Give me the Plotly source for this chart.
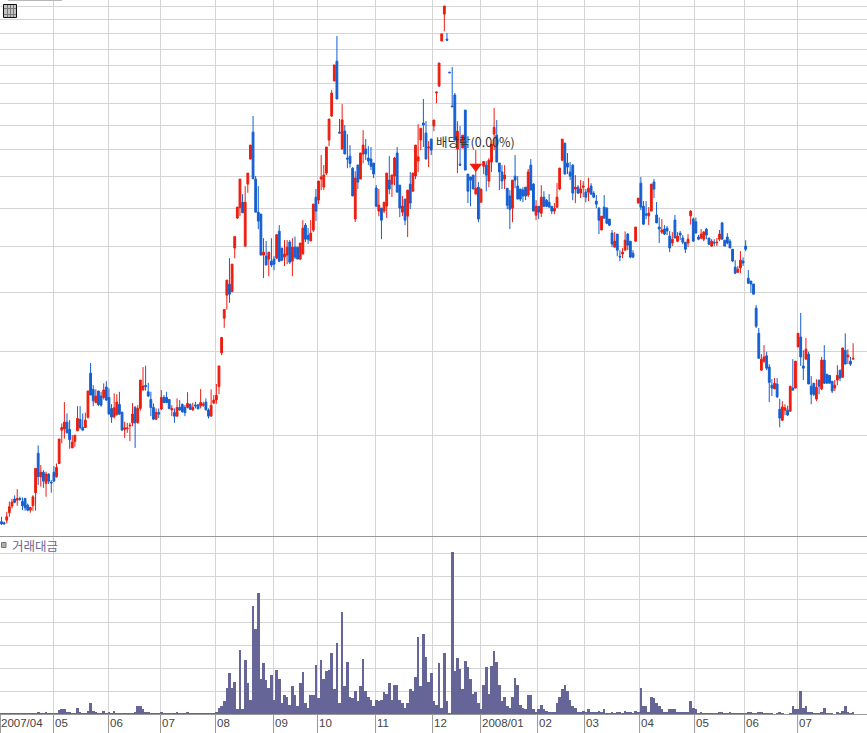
import plotly.graph_objects as go

W, H = 867, 733

opens = [1316,1309,1326,1375,1420,1469,1461,1473,1451,1473,
1426,1392,1422,1515,1834,1636,1673,1584,1658,1594,
1673,1636,1745,2051,2064,2132,2059,1882,1940,2045,
2160,2078,2078,2183,2704,2499,2345,2480,2419,2404,
2527,2404,2279,2188,2210,2322,2238,2059,2065,2093,
2125,2290,2125,2279,2491,2548,2470,2380,2290,2163,
2235,2272,2404,2404,2380,2262,2235,2195,2290,2322,
2290,2290,2322,2262,2318,2318,2308,2315,2350,2262,
2195,2339,2373,2533,2983,3530,3945,4162,4012,4957,
5734,6037,6190,5003,6760,7630,8695,6925,5900,5845,
4791,4768,4700,4652,4700,4720,5380,4957,4745,4791,
5105,4652,4980,4980,4700,4815,5540,5270,5130,5408,
6345,6255,6925,6662,7130,8370,9400,11140,12265,8695,
8010,8740,7670,7740,7300,5707,7415,6925,7820,8010,
7670,7630,7485,6630,5930,6017,5930,6075,6892,6760,
7030,7860,6725,5900,6285,5787,6760,6530,7030,7560,
8370,9090,8655,8050,8410,8955,10510,10875,13520,15410,
13640,11630,9870,10410,8010,7445,8050,9675,7095,6995,
7060,6440,6660,6190,7370,7410,6860,7520,8615,8570,
7485,7170,6930,6625,6380,6015,7025,6695,6600,6565,
6660,6410,7410,6760,5815,6070,5870,6345,6254,6190,
6070,5930,6045,6600,7590,8245,7485,7170,7410,6600,
6660,6470,6660,6500,6500,6695,6470,6225,6015,5410,
6045,6015,5705,5330,4980,5305,4765,4815,4907,5305,
5125,4835,5125,6165,6790,6070,5847,5795,5930,6830,
5820,5490,5355,5435,5460,5255,5080,5678,5125,5330,
5205,5100,5080,5795,5705,5630,5230,5205,5175,5435,
5205,5005,5100,5085,5175,5600,5150,5230,5125,4930,
4520,4410,4500,4655,5005,4285,4225,4165,3705,3280,
2743,2865,2940,2785,2550,2505,2565,2270,2153,2260,
2260,2248,2515,2515,3070,3220,2800,2893,2965,2538,
2575,2385,2615,2505,2880,2690,2675,2600,2515,2615,
2743,2650,3020,2925,2865,2893]

highs = [1348,1316,1381,1450,1471,1495,1541,1485,1480,1478,
1437,1415,1497,1704,1905,1731,1690,1677,1663,1610,
1723,1745,1965,2119,2350,2224,2155,2002,2002,2304,
2304,2224,2232,2480,2840,2551,2499,2480,2470,2573,
2601,2511,2327,2451,2442,2470,2238,2136,2125,2125,
2339,2304,2315,2614,2784,2802,2580,2470,2335,2279,
2279,2491,2431,2470,2380,2315,2279,2392,2373,2335,
2315,2466,2335,2342,2354,2327,2503,2354,2392,2279,
2499,2431,2565,2800,3214,3680,4244,4720,4586,5240,
6047,6925,6438,6693,7130,8165,9400,7030,6693,5845,
5200,5130,4860,5200,4768,5290,5540,4957,5153,5153,
5153,5200,5240,4980,5080,5675,5595,5460,5675,6135,
6600,6860,7780,7415,8090,9265,10660,12040,13855,9265,
9960,9000,8610,8165,7340,7195,7415,7860,8783,8410,
8125,8090,7485,6725,6600,6017,6190,7130,7740,7065,
7710,8090,6725,6380,6285,6565,7165,7130,8165,9040,
8860,10210,9175,8325,8410,9220,10560,12155,14000,16020,
14050,11630,11920,10510,9165,8955,8570,9675,7095,6995,
7060,7970,6825,6600,7540,7555,7665,8205,9770,9220,
7485,7410,7410,6625,6565,6890,7780,7025,6600,6660,
6660,7270,7630,6790,6254,6070,6725,6530,6285,6440,
6070,6165,6790,7305,8405,8245,7855,7520,7445,7060,
6725,6890,6860,6600,6970,6790,6530,6410,6045,5785,
6410,6045,5705,5410,5355,5305,4907,4955,5375,5330,
5125,4907,5490,6315,6995,6225,6225,6047,6760,6930,
6195,5750,5705,5540,5515,5385,5355,5820,5355,5385,
5280,5100,5305,5955,5750,5750,5280,5435,5385,5460,
5205,5175,5175,5205,5410,5630,5150,5330,5175,4930,
4675,4545,4885,4740,5150,4456,4225,4165,3760,3365,
2965,3097,3000,2825,2625,2640,2640,2385,2360,2325,
2310,2538,2893,2865,3280,3620,3020,3205,3000,2665,
2575,2625,2615,2925,3097,2690,2675,2600,2615,2810,
2743,3055,3280,3035,2925,3125]

lows = [1296,1300,1305,1348,1404,1439,1422,1457,1392,1388,
1385,1375,1388,1388,1572,1560,1550,1485,1580,1515,
1602,1630,1740,1925,1970,2019,1875,1882,1893,2045,
2059,2051,2072,2170,2431,2304,2337,2304,2297,2380,
2365,2217,2125,2170,2203,2206,2051,1975,2025,1945,
2090,1882,2119,2255,2491,2484,2412,2195,2153,2156,
2175,2262,2337,2337,2269,2195,2125,2195,2255,2232,
2195,2279,2262,2255,2279,2269,2279,2297,2262,2170,
2195,2331,2331,2444,2950,3368,3680,3801,4012,4720,
5707,5787,5882,5003,6480,7630,6936,5900,5432,4791,
4285,4565,4325,4520,4454,4700,4630,4652,4543,4586,
4586,4325,4700,4700,4675,4815,5105,5055,5130,5355,
5650,6135,6565,6565,7065,8125,9355,11140,10210,8655,
8010,7820,7300,7320,6380,5625,6600,6925,7472,7595,
7415,7235,6960,6047,5787,5175,5875,5734,6438,6345,
6725,6500,5760,5787,5540,5230,5990,6530,6925,7165,
7970,8090,7630,7340,7780,8740,10010,10820,13520,14175,
13575,11595,9835,8365,7130,7410,8050,7235,6165,6070,
6600,6440,5620,6190,7095,6530,6660,7170,7970,7520,
6565,6600,6600,5985,5435,5620,6625,6285,6225,6190,
6254,6345,6565,5930,5675,5705,5760,6045,6045,6045,
5845,5845,6015,6565,7555,7095,7095,6890,6254,6165,
6440,6315,6345,6190,6225,6410,6315,6015,5305,5410,
5730,5565,5515,4980,4980,4765,4650,4720,4907,4907,
4720,4720,5125,6165,5955,5540,5705,5540,5930,6320,
5600,5080,5305,5280,5280,4860,5005,5205,5100,5150,
5050,4840,4985,5555,5125,5330,5150,5175,5125,5175,
5030,4985,5005,5005,5125,5175,5005,5050,4960,4630,
4370,4390,4390,4545,4885,4180,3990,3965,3365,2905,
2743,2840,2743,2350,2420,2505,2400,2080,2143,2208,
2197,2248,2490,2515,3070,2800,2615,2893,2565,2325,
2420,2360,2440,2490,2565,2575,2575,2455,2480,2550,
2600,2650,2825,2825,2800,2893]

closes = [1302,1302,1348,1415,1448,1446,1473,1466,1422,1408,
1392,1410,1485,1704,1636,1673,1602,1658,1602,1589,
1602,1712,1965,2078,2132,2025,1958,1937,2002,2170,
2078,2051,2153,2480,2431,2365,2419,2322,2315,2491,
2373,2217,2185,2285,2350,2217,2051,2075,2072,2100,
2217,2125,2279,2614,2540,2533,2419,2288,2163,2235,
2217,2404,2345,2345,2279,2279,2195,2290,2262,2243,
2232,2335,2269,2290,2308,2275,2345,2327,2262,2195,
2311,2373,2427,2800,3214,3680,4244,3965,4586,5240,
6047,6925,5882,6190,7130,8165,6936,5900,5650,4791,
4860,4565,4860,4565,4586,5290,4652,4675,4815,4980,
4630,4980,4745,4700,5080,5460,5175,5175,5330,6135,
5930,6860,6995,7065,8090,9265,10510,12040,10210,8655,
9220,7820,7630,7472,6380,6960,6825,7860,8165,7820,
7560,7370,7095,6075,6105,5675,6190,7130,6600,7065,
7670,6500,6017,6075,5675,6565,6165,7130,8165,7710,
8860,9000,7630,8090,7970,9220,10560,12155,14000,16020,
13575,11595,9835,8365,8735,7410,8570,7235,6530,6890,
6600,6625,5705,6600,7540,7060,7590,8205,8900,7520,
7170,6860,7060,6100,5985,6890,6890,6285,6285,6380,
6380,7170,6565,5930,6070,5900,6345,6070,6070,6045,
5930,6015,6345,7305,8405,7095,7340,7025,6470,6660,
6470,6600,6695,6345,6625,6440,6345,6130,5675,5785,
5730,5590,5540,5055,5125,4907,4750,4860,5150,5030,
4745,4745,5490,6315,6045,5565,5820,5875,6760,6600,
5600,5435,5410,5305,5385,4960,5175,5205,5255,5280,
5100,4930,5175,5930,5125,5330,5175,5305,5355,5280,
5050,5125,5080,5100,5305,5175,5005,5080,4960,4655,
4390,4475,4675,4610,4930,4180,4165,3965,3395,2905,
2893,2925,2770,2585,2515,2575,2410,2175,2295,2285,
2208,2538,2490,2865,3280,2925,2770,3035,2565,2440,
2440,2525,2538,2880,2575,2575,2575,2480,2550,2675,
2640,3055,2825,2950,2825,2905]

volumes = [4,7,3,7,7,3,3,3,3,3,3,3,7,7,12,7,3,9,3,3,
7,7,20,26,22,12,12,7,7,30,12,7,7,14,48,16,12,7,7,16,7,
12,7,16,7,7,7,3,3,3,7,12,39,35,26,12,9,7,3,7,3,
12,7,7,7,3,7,12,7,3,3,12,7,3,7,3,7,3,3,3,7,7,
12,30,39,57,117,178,113,143,26,278,22,235,135,65,470,370,526,152,222,148,117,170,61,191,152,48,83,78,
43,122,83,35,135,183,52,30,83,83,
213,70,235,152,187,191,265,109,309,48,
444,122,226,78,70,100,57,122,239,104,
74,61,39,65,57,65,96,87,135,61,
126,126,61,48,30,52,109,100,161,335,
122,348,248,139,178,57,43,222,30,265,
57,4,704,187,243,196,109,230,204,152,
91,96,52,26,126,204,87,209,274,226,
130,57,74,39,30,74,157,126,43,30,
22,83,83,26,9,22,43,26,17,13,
13,13,48,78,109,130,100,
61,39,30,13,13,17,9,26,9,9,
9,17,9,26,4,4,13,4,13,13,
4,17,9,13,4,17,9,117,35,35,
9,74,70,52,39,22,9,9,22,26,
26,13,13,13,13,13,57,30,22,4,
9,4,4,4,4,4,4,13,13,4,4,
9,4,4,4,4,4,4,13,13,4,
4,13,9,4,4,4,4,0,4,9,
4,1,1,4,39,22,22,104,30,35,
13,9,4,4,4,13,30,4,4,4,
1,9,4,17,39,9,4,9]

month_labels = ["2007/04","05","06","07","08","09","10","11","12","2008/01","02","03","04","05","06","07"]
month_ticks = [-0.4,19.85,40.84,60.69,81.68,103.82,120.6,142.75,164.5,182.82,204.58,222.52,243.51,264.5,283.59,303.82]
price_grid = [2000,3000,4000,5000,6000,7000,8000,9000,10000,11000,12000,13000,14000,15000,16000]
volume_grid = [100,200,300,400,500,600,700]
ex_div_index = 181
ex_div_price = 7360

assert len(opens) == len(highs) == len(lows) == len(closes) == len(volumes), (len(opens), len(highs), len(lows), len(closes), len(volumes))
xs = list(range(len(opens)))

RED, BLUE, GRID, DARK = "#ee1c0e", "#145fd0", "#d5d5d5", "#989898"
VOL = "#656598"
FONT = "Liberation Sans, sans-serif"
KFONT = "Noto Sans CJK KR, sans-serif"

def px_x(p): return p / W
def px_y(p): return 1 - p / H

fig = go.Figure()
fig.add_trace(go.Candlestick(
    x=xs, open=opens, high=highs, low=lows, close=closes,
    increasing=dict(line=dict(color=RED, width=1), fillcolor=RED),
    decreasing=dict(line=dict(color=BLUE, width=1), fillcolor=BLUE),
    whiskerwidth=0, xaxis="x", yaxis="y", hoverinfo="skip"))
fig.add_trace(go.Scatter(
    x=[ex_div_index], y=[ex_div_price], mode="markers",
    marker=dict(symbol="triangle-down", size=11, color=RED, line=dict(width=0)),
    xaxis="x", yaxis="y", hoverinfo="skip"))
fig.add_trace(go.Bar(
    x=xs, y=volumes, marker=dict(color=VOL, line=dict(width=0)),
    xaxis="x2", yaxis="y2", hoverinfo="skip"))

x_range = [-0.573, 330.3]
xcommon = dict(range=x_range, tickmode="array", tickvals=month_ticks, showticklabels=False,
               showgrid=True, gridcolor=GRID, gridwidth=1, zeroline=False, ticks="",
               showline=False, fixedrange=True)

shapes = [
    dict(type="line", xref="paper", yref="paper", x0=0, x1=1, y0=px_y(536.5), y1=px_y(536.5), line=dict(color=DARK, width=1), layer="above"),
    dict(type="line", xref="paper", yref="paper", x0=0, x1=1, y0=px_y(714.5), y1=px_y(714.5), line=dict(color=DARK, width=1), layer="above"),
    dict(type="line", xref="paper", yref="paper", x0=px_x(8), x1=px_x(62), y0=px_y(0.5), y1=px_y(0.5), line=dict(color="#b8b8b8", width=1)),
    # table icon
    dict(type="rect", xref="paper", yref="paper", x0=px_x(3.5), x1=px_x(16.5), y0=px_y(4.5), y1=px_y(17.5),
         line=dict(color="#111111", width=1), fillcolor="#c4c4c4", layer="above"),
    # legend square
    dict(type="rect", xref="paper", yref="paper", x0=px_x(1.5), x1=px_x(6), y0=px_y(542.5), y1=px_y(547.5),
         line=dict(color="#777777", width=1), fillcolor="#b0b0b0", layer="above"),
]
for gx in (7.5, 10.5, 13.5):
    shapes.append(dict(type="line", xref="paper", yref="paper", x0=px_x(gx), x1=px_x(gx), y0=px_y(5), y1=px_y(17),
                       line=dict(color="#7a7a7a", width=1), layer="above"))
for gy in (8.5, 14.5):
    shapes.append(dict(type="line", xref="paper", yref="paper", x0=px_x(4), x1=px_x(16), y0=px_y(gy), y1=px_y(gy),
                       line=dict(color="#7a7a7a", width=1), layer="above"))
for t in month_ticks:
    shapes.append(dict(type="line", xref="x2", yref="paper", x0=t, x1=t, y0=0, y1=px_y(714.5),
                       line=dict(color=DARK, width=1)))

annotations = [
    dict(text=lab, x=t, xref="x2", y=px_y(723), yref="paper", xanchor="left", yanchor="middle",
         xshift=-1, showarrow=False, font=dict(family=FONT, size=11.5, color="#444444"))
    for t, lab in zip(month_ticks, month_labels)
]
annotations.append(dict(text="거래대금", x=px_x(10), xref="paper", y=px_y(545), yref="paper",
                        xanchor="left", yanchor="middle", showarrow=False,
                        font=dict(family=KFONT, size=12.5, color="#67679b")))
annotations.append(dict(text="배당락(0.00%)", x=px_x(434), xref="paper", y=px_y(141), yref="paper",
                        xanchor="left", yanchor="middle", showarrow=False,
                        font=dict(family=KFONT, size=12.5, color="#333333")))

fig.update_layout(
    width=W, height=H, autosize=False,
    margin=dict(l=0, r=0, t=0, b=0),
    paper_bgcolor="white", plot_bgcolor="white", showlegend=False,
    bargap=0, boxgap=0.02, hovermode=False, dragmode=False,
    xaxis=dict(domain=[0, 1], anchor="y", rangeslider=dict(visible=False), **xcommon),
    xaxis2=dict(domain=[0, 1], anchor="y2", **xcommon),
    yaxis=dict(domain=[px_y(536), 1], anchor="x", type="log", range=[3.0892, 4.2174],
               tickmode="array", tickvals=price_grid, showticklabels=False,
               showgrid=True, gridcolor=GRID, zeroline=False, ticks="", fixedrange=True),
    yaxis2=dict(domain=[px_y(714.5), px_y(536)], anchor="x2", range=[0, 774],
                tickmode="array", tickvals=volume_grid, showticklabels=False,
                showgrid=True, gridcolor=GRID, zeroline=False, ticks="", fixedrange=True),
    shapes=shapes, annotations=annotations,
)
fig.write_html("out.html", config=dict(displayModeBar=False),
               post_script="document.body.style.margin='0';document.documentElement.style.overflow='hidden';")
